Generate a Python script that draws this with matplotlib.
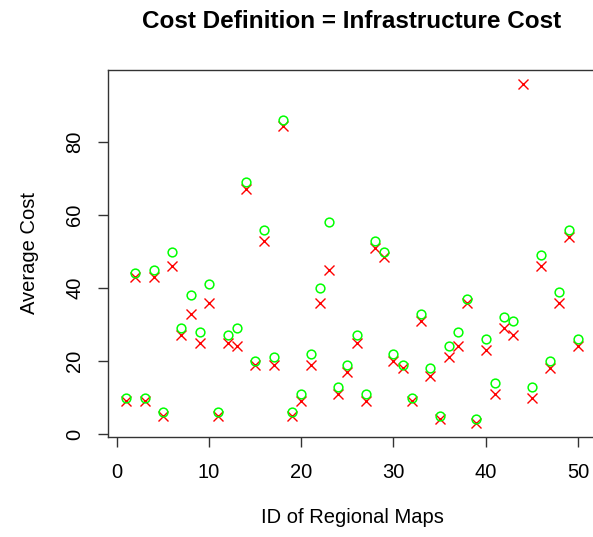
import numpy as np
import matplotlib
matplotlib.use("Agg")
import matplotlib.pyplot as plt

plt.rcParams['font.family'] = ['Liberation Sans', 'DejaVu Sans']

# map ids and the two cost series
map_id = np.arange(1, 51)
cost_red = [9, 43, 9, 43, 5, 46, 27, 33, 25, 36,
            5, 25, 24, 67, 19, 53, 19, 84.5, 5, 9,
            19, 36, 45, 11, 17, 25, 9, 51, 48.5, 20,
            18, 9, 31, 16, 4, 21, 24, 36, 3, 23,
            11, 29, 27, 96, 10, 46, 18, 36, 54, 24]
cost_green = [10, 44, 10, 45, 6, 50, 29, 38, 28, 41,
              6, 27, 29, 69, 20, 56, 21, 86, 6, 11,
              22, 40, 58, 13, 19, 27, 11, 53, 50, 22,
              19, 10, 33, 18, 5, 24, 28, 37, 4, 26,
              14, 32, 31, np.nan, 13, 49, 20, 39, 56, 26]

title = 'Cost Definition = Infrastructure Cost'
xlab = 'ID of Regional Maps'
ylab = 'Average Cost'

fig = plt.figure(figsize=(5.93, 5.37), dpi=100)
ax = fig.add_axes([108/593, 1 - 436.7/537, (596 - 108)/593, (436.7 - 70)/537])

# R style: red drawn first, green points on top
ax.plot(map_id, cost_red, linestyle='none', marker='x', color='#FF0000',
        markersize=7, markeredgewidth=1.0)
ax.plot(map_id, cost_green, linestyle='none', marker='o', markerfacecolor='none',
        markeredgecolor='#00FF00', markersize=6.3, markeredgewidth=1.1)

# R's default 4% axis padding
xlo, xhi = map_id.min(), map_id.max()
ylo, yhi = np.nanmin(cost_red), np.nanmax(cost_red)
ax.set_xlim(xlo - 0.04*(xhi - xlo), xhi + 0.04*(xhi - xlo))
ax.set_ylim(ylo - 0.04*(yhi - ylo), yhi + 0.04*(yhi - ylo))

ax.set_xticks([0, 10, 20, 30, 40, 50])
ax.set_yticks([0, 20, 40, 60, 80])
ax.tick_params(direction='out', length=7.5, width=1, color='#333333',
               labelsize=14.5)
ax.tick_params(axis='x', pad=11.2)
ax.tick_params(axis='y', labelrotation=90, pad=9.6)
for lab in ax.get_yticklabels():
    lab.set_va('center')
for sp in ax.spines.values():
    sp.set_color('#333333')
    sp.set_linewidth(1)

ax.set_xlabel(xlab, fontsize=14.5, labelpad=18.7)
ax.set_ylabel(ylab, fontsize=14.5, labelpad=18.6)
fig.text(352/593, 1 - 21/537, title, fontsize=17.5, fontweight='bold',
         ha='center', va='center')

fig.savefig('out.png', dpi=100)
